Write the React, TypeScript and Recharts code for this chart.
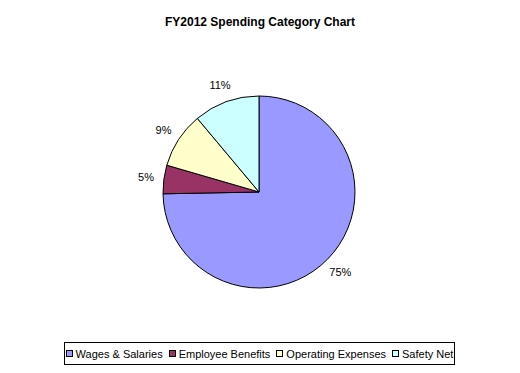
import { Legend, Pie, PieChart, Cell } from "recharts";

const categories = ["Wages & Salaries", "Employee Benefits", "Operating Expenses", "Safety Net"];
const shares = [74.7, 4.8, 9.4, 11.1];
const percentLabels = ["75%", "5%", "9%", "11%"];
const colors = ["#9999FF", "#993366", "#FFFFCC", "#CCFFFF"];

const data = categories.map((name, i) => ({ name, value: shares[i], label: percentLabels[i] }));

const FONT = "'Liberation Sans', Arial, sans-serif";
const RAD = Math.PI / 180;

function renderLabel(props: any) {
  const { cx, cy, midAngle, outerRadius, index } = props;
  const r = outerRadius + 18;
  const x = cx + r * Math.cos(-midAngle * RAD);
  const y = cy + r * Math.sin(-midAngle * RAD);
  return (
    <text
      x={x}
      y={y}
      fill="#000"
      stroke="none"
      fontSize={11}
      fontFamily={FONT}
      textAnchor="middle"
      dominantBaseline="central"
    >
      {percentLabels[index]}
    </text>
  );
}

function LegendBox() {
  return (
    <div
      style={{
        position: "absolute",
        left: 64,
        top: 342,
        width: 389,
        height: 21,
        border: "1px solid #000",
        display: "flex",
        alignItems: "center",
        justifyContent: "center",
        fontFamily: FONT,
        fontSize: 11,
        color: "#000",
        background: "#fff",
      }}
    >
      {categories.map((c, i) => (
        <span key={c} style={{ display: "flex", alignItems: "center", marginRight: i < categories.length - 1 ? 6 : 0 }}>
          <span
            style={{
              width: 5,
              height: 5,
              border: "1px solid #000",
              background: colors[i],
              marginRight: 3,
              display: "inline-block",
            }}
          />
          {c}
        </span>
      ))}
    </div>
  );
}

export default function App() {
  return (
    <div style={{ position: "fixed", left: 0, top: 0, width: 520, height: 373, background: "#fff" }}>
      <div
        style={{
          position: "absolute",
          top: 15,
          left: 0,
          width: 520,
          textAlign: "center",
          fontFamily: FONT,
          fontWeight: "bold",
          fontSize: 12,
          color: "#000",
        }}
      >
        FY2012 Spending Category Chart
      </div>
      <PieChart
        width={520}
        height={373}
        margin={{ top: 0, right: 0, bottom: 0, left: 0 }}
        style={{ position: "absolute", left: 0, top: 0 }}
      >
        <Pie
          data={data}
          dataKey="value"
          nameKey="name"
          cx={259}
          cy={192}
          outerRadius={96}
          startAngle={90}
          endAngle={-270}
          stroke="#000"
          strokeWidth={1}
          label={renderLabel}
          labelLine={false}
          isAnimationActive={false}
        >
          {data.map((d, i) => (
            <Cell key={d.name} fill={colors[i]} />
          ))}
        </Pie>
        <Legend content={() => <LegendBox />} wrapperStyle={{ position: "absolute", left: 0, top: 0, width: 0, height: 0 }} />
      </PieChart>
    </div>
  );
}
